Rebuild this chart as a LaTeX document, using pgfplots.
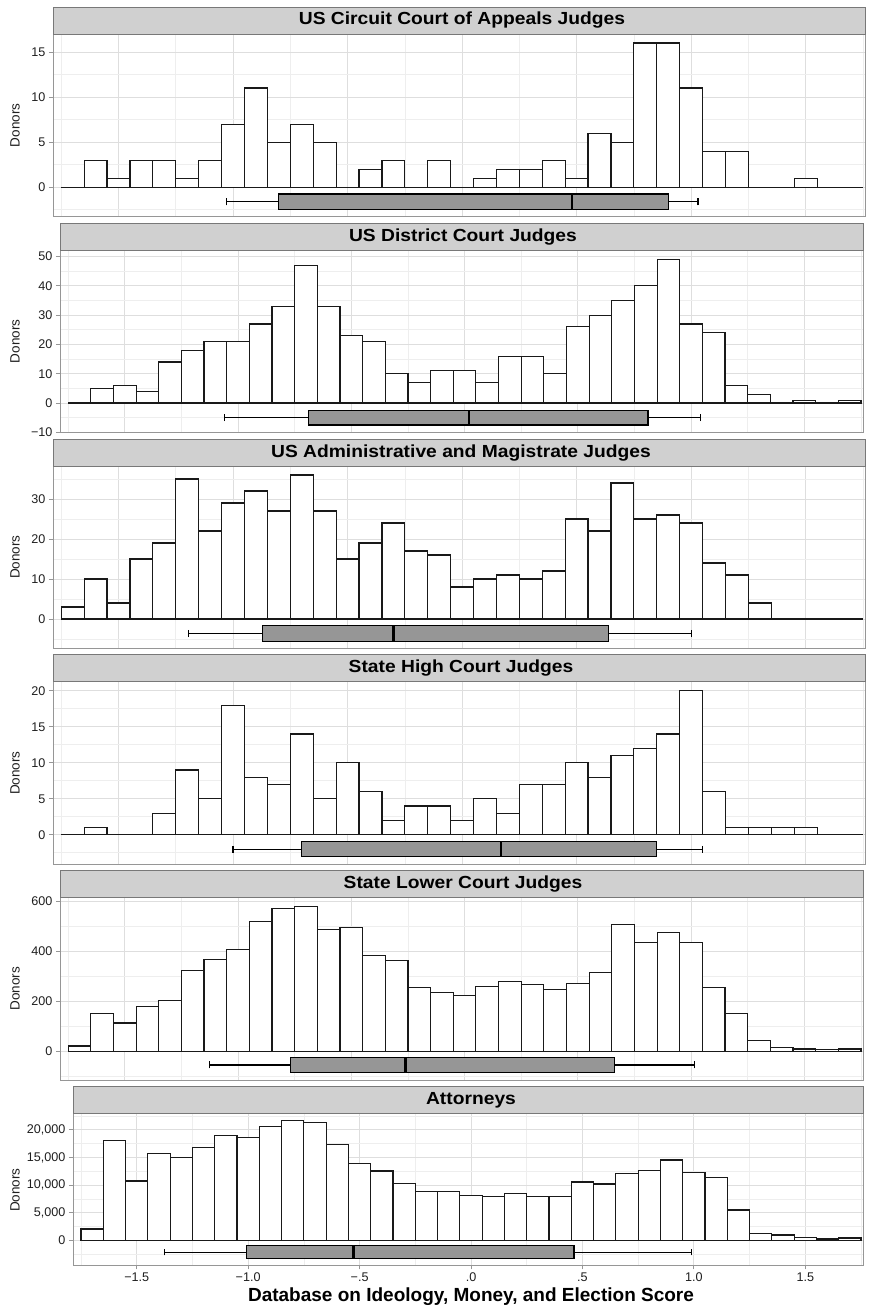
\documentclass[border=0pt]{standalone}
\usepackage{pgfplots}
\pgfplotsset{compat=1.18}
\usepackage{pgfplotstable}
\usepgfplotslibrary{statistics}
\usepackage{fontspec}
\setmainfont{Liberation Sans}
\newfontfamily\stripfont[FakeStretch=1.1]{Liberation Sans Bold}

\definecolor{stripfill}{RGB}{208,208,208}
\definecolor{stripborder}{RGB}{120,120,120}
\definecolor{panelborder}{RGB}{150,150,150}
\definecolor{gridmajor}{RGB}{222,222,222}
\definecolor{gridminor}{RGB}{238,238,238}
\definecolor{boxgray}{RGB}{150,150,150}
\definecolor{barline}{RGB}{25,25,25}
\definecolor{ticktext}{RGB}{30,30,30}

\pgfplotstableread{
x     a   b   c   d   e    f
-1.75 0   0   3   0   21   2050
-1.65 3   5   10  1   150  18100
-1.55 1   6   4   0   113  10750
-1.45 3   4   15  0   180  15650
-1.35 3   14  19  3   203  15050
-1.25 1   18  35  9   323  16800
-1.15 3   21  22  5   368  18950
-1.05 7   21  29  18  406  18600
-0.95 11  27  32  8   519  20550
-0.85 5   33  27  7   569  21700
-0.75 7   47  36  14  578  21400
-0.65 5   33  27  5   485  17400
-0.55 0   23  15  10  494  13900
-0.45 2   21  19  6   383  12550
-0.35 3   10  24  2   363  10250
-0.25 0   7   17  4   255  8800
-0.15 3   11  16  4   235  8800
-0.05 0   11  8   2   223  8150
0.05  1   7   10  5   260  7950
0.15  2   16  11  3   278  8450
0.25  2   16  10  7   268  7950
0.35  3   10  12  7   247  7950
0.45  1   26  25  10  270  10550
0.55  6   30  22  8   315  10200
0.65  5   35  34  11  506  12100
0.75  16  40  25  12  433  12700
0.85  16  49  26  14  473  14550
0.95  11  27  24  20  434  12300
1.05  4   24  14  6   254  11400
1.15  4   6   11  1   150  5500
1.25  0   3   4   1   44   1270
1.35  0   0   0   1   16   970
1.45  1   1   0   1   9    550
1.55  0   0   0   0   7    250
1.65  0   1   0   0   9    430
1.75  0   0   0   0   0    0
}\hist

\pgfplotsset{
  panel/.style={
    scale only axis, anchor=north west,
    xmin=-1.786, xmax=1.759,
    xtick={-1.5,-1,-0.5,0,0.5,1,1.5},
    minor xtick={-1.75,-1.25,-0.75,-0.25,0.25,0.75,1.25,1.75},
    grid=both,
    major grid style={draw=gridmajor, line width=0.9pt},
    minor grid style={draw=gridminor, line width=0.6pt},
    axis line style={draw=panelborder, line width=0.8pt},
    tick align=outside, tick pos=left,
    major tick length=4pt, minor tick length=0pt,
    tick style={draw=panelborder, line width=0.8pt},
    ticklabel style={font=\fontsize{12.6}{14}\selectfont, text=ticktext},
  },
  nox/.style={xticklabels={}, xtick style={draw=none}},
  histo/.style={ybar interval, fill=white, draw=barline, line width=1.2pt},
  bx/.style={boxplot/draw direction=x, draw=black, fill=boxgray, line width=1.2pt,
    boxplot/every median/.style={line width=2.8pt}},
}

\newcommand{\striptext}[1]{{\fontsize{17.5}{20}\stripfont #1}}

\begin{document}
\begin{tikzpicture}
\path[use as bounding box] (0,0) rectangle (871pt,-1309pt);

% Panel 1
\begin{axis}[panel, nox, at={(53pt,-34pt)}, width=812pt, height=182.7pt,
  ymin=-3.27, ymax=17.0, ytick={0,5,10,15}, yticklabels={0,5,10,15},
  minor ytick={-2.5,2.5,7.5,12.5}]
\addplot[histo] table[x=x,y=a]{\hist};
\addplot[bx, boxplot prepared={lower whisker=-1.03, lower quartile=-0.80, median=0.48,
  upper quartile=0.90, upper whisker=1.03, draw position=-1.6, box extend=1.7, whisker extend=0.8}] coordinates {};
\end{axis}
\draw[fill=stripfill, draw=stripborder, line width=0.8pt] (53pt,-7pt) rectangle (865pt,-34pt);
\node at (462pt,-20.5pt) {\striptext{US Circuit Court of Appeals Judges}};
\node[rotate=90, font=\fontsize{13.5}{16}\selectfont, text=ticktext] at (15pt,-125.4pt) {Donors};

% Panel 2
\begin{axis}[panel, nox, at={(60pt,-250pt)}, width=803pt, height=182.7pt,
  ymin=-10.1, ymax=52.2, ytick={-10,0,10,20,30,40,50}, yticklabels={−10,0,10,20,30,40,50},
  minor ytick={-5,5,15,25,35,45}]
\addplot[histo] table[x=x,y=b]{\hist};
\addplot[bx, boxplot prepared={lower whisker=-1.06, lower quartile=-0.69, median=0.02,
  upper quartile=0.81, upper whisker=1.04, draw position=-4.95, box extend=5.1, whisker extend=2.4}] coordinates {};
\end{axis}
\draw[fill=stripfill, draw=stripborder, line width=0.8pt] (60pt,-223.3pt) rectangle (863pt,-250pt);
\node at (463pt,-236.6pt) {\striptext{US District Court Judges}};
\node[rotate=90, font=\fontsize{13.5}{16}\selectfont, text=ticktext] at (15pt,-341.4pt) {Donors};

% Panel 3
\begin{axis}[panel, nox, at={(53pt,-466pt)}, width=812pt, height=182.3pt,
  ymin=-7.3, ymax=38.25, ytick={0,10,20,30}, yticklabels={0,10,20,30},
  minor ytick={-5,5,15,25,35}]
\addplot[histo] table[x=x,y=c]{\hist};
\addplot[bx, boxplot prepared={lower whisker=-1.195, lower quartile=-0.87, median=-0.30,
  upper quartile=0.64, upper whisker=1.0, draw position=-3.6, box extend=3.8, whisker extend=1.8}] coordinates {};
\end{axis}
\draw[fill=stripfill, draw=stripborder, line width=0.8pt] (53pt,-439.3pt) rectangle (865pt,-466pt);
\node at (461pt,-452.6pt) {\striptext{US Administrative and Magistrate Judges}};
\node[rotate=90, font=\fontsize{13.5}{16}\selectfont, text=ticktext] at (15pt,-557pt) {Donors};

% Panel 4
\begin{axis}[panel, nox, at={(53pt,-681.7pt)}, width=812pt, height=182.6pt,
  ymin=-4.1, ymax=21.25, ytick={0,5,10,15,20}, yticklabels={0,5,10,15,20},
  minor ytick={-2.5,2.5,7.5,12.5,17.5}]
\addplot[histo] table[x=x,y=d]{\hist};
\addplot[bx, boxplot prepared={lower whisker=-1.0, lower quartile=-0.70, median=0.17,
  upper quartile=0.85, upper whisker=1.05, draw position=-2.0, box extend=2.08, whisker extend=1.0}] coordinates {};
\end{axis}
\draw[fill=stripfill, draw=stripborder, line width=0.8pt] (53pt,-654.3pt) rectangle (865pt,-681.7pt);
\node at (461pt,-668pt) {\striptext{State High Court Judges}};
\node[rotate=90, font=\fontsize{13.5}{16}\selectfont, text=ticktext] at (15pt,-773pt) {Donors};

% Panel 5
\begin{axis}[panel, nox, at={(60pt,-897.3pt)}, width=803pt, height=182.7pt,
  ymin=-115, ymax=615, ytick={0,200,400,600}, yticklabels={0,200,400,600},
  minor ytick={-100,100,300,500}]
\addplot[histo] table[x=x,y=e]{\hist};
\addplot[bx, boxplot prepared={lower whisker=-1.126, lower quartile=-0.767, median=-0.262,
  upper quartile=0.662, upper whisker=1.014, draw position=-55, box extend=60, whisker extend=28}] coordinates {};
\end{axis}
\draw[fill=stripfill, draw=stripborder, line width=0.8pt] (60pt,-870.7pt) rectangle (863pt,-897.3pt);
\node at (463pt,-884pt) {\striptext{State Lower Court Judges}};
\node[rotate=90, font=\fontsize{13.5}{16}\selectfont, text=ticktext] at (15pt,-988.7pt) {Donors};

% Panel 6
\begin{axis}[panel, at={(73pt,-1113.3pt)}, width=790pt, height=152pt,
  xticklabels={−1.5,−1.0,−.5,.0,.5,1.0,1.5},
  ymin=-4530, ymax=23000, ytick={0,5000,10000,15000,20000},
  yticklabels={0,{5,000},{10,000},{15,000},{20,000}},
  minor ytick={-2500,2500,7500,12500,17500,22500}]
\addplot[histo] table[x=x,y=f]{\hist};
\addplot[bx, boxplot prepared={lower whisker=-1.374, lower quartile=-1.006, median=-0.528,
  upper quartile=0.462, upper whisker=0.99, draw position=-2160, box extend=2350, whisker extend=1100}] coordinates {};
\end{axis}
\draw[fill=stripfill, draw=stripborder, line width=0.8pt] (73pt,-1086.7pt) rectangle (863pt,-1113.3pt);
\node at (471pt,-1100pt) {\striptext{Attorneys}};
\node[rotate=90, font=\fontsize{13.5}{16}\selectfont, text=ticktext] at (15pt,-1190pt) {Donors};
\node at (471pt,-1297pt) {\fontsize{19}{22}\selectfont\bfseries Database on Ideology, Money, and Election Score};
\end{tikzpicture}
\end{document}
